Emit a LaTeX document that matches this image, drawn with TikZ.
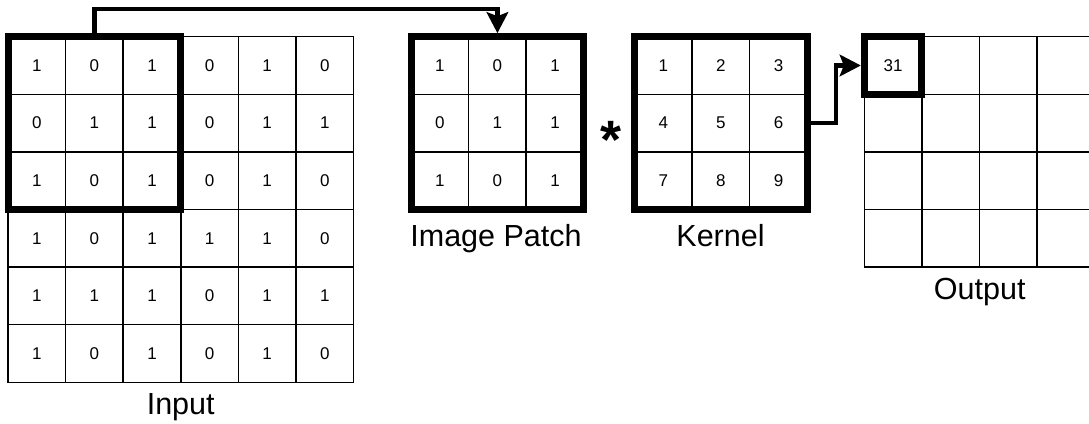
\documentclass[tikz,border=0pt]{standalone}
\usepackage{fontspec}
\setmainfont{Liberation Sans}
\usetikzlibrary{arrows.meta}
\begin{document}
\begin{tikzpicture}[x=1pt,y=-1pt,
  cell/.style={draw=black, line width=1.5pt, minimum size=57.6pt, inner sep=0pt, outer sep=0pt, font=\fontsize{17}{20}\selectfont},
  thickbox/.style={draw=black, line width=7pt, minimum size=172.8pt, inner sep=0pt},
  conn/.style={line width=4.3pt, -{Stealth[length=21pt,width=21.5pt,inset=4pt]}},
  lbl/.style={anchor=base, inner sep=0pt, font=\fontsize{30.5}{36}\selectfont}]
\useasboundingbox (0,0) rectangle (1089,423);
\clip (0,0) rectangle (1089,423);
% Input grid
\foreach \row [count=\r from 0] in {{1,0,1,0,1,0},{0,1,1,0,1,1},{1,0,1,0,1,0},{1,0,1,1,1,0},{1,1,1,0,1,1},{1,0,1,0,1,0}}{
  \foreach \v [count=\c from 0] in \row {
    \node[cell] (in-\r-\c) at ({8+28.8+57.6*\c},{36.7+28.8+57.6*\r}) {\v};
  }
}
% Image patch
\foreach \row [count=\r from 0] in {{1,0,1},{0,1,1},{1,0,1}}{
  \foreach \v [count=\c from 0] in \row {
    \node[cell] (pa-\r-\c) at ({411+28.8+57.6*\c},{36.7+28.8+57.6*\r}) {\v};
  }
}
% Kernel
\foreach \row [count=\r from 0] in {{1,2,3},{4,5,6},{7,8,9}}{
  \foreach \v [count=\c from 0] in \row {
    \node[cell] (ke-\r-\c) at ({634.5+28.8+57.6*\c},{36.7+28.8+57.6*\r}) {\v};
  }
}
% Output
\foreach \r in {0,...,3}{
  \foreach \c in {0,...,3}{
    \node[cell] (out-\r-\c) at ({864.3+28.8+57.6*\c},{36.7+28.8+57.6*\r}) {\ifnum\r=0 \ifnum\c=0 31\fi\fi};
  }
}
% Thick boxes
\node[thickbox] (inbox) at (94.4,123.1) {};
\node[thickbox] (patchbox) at (497.4,123.1) {};
\node[thickbox] (kbox) at (720.9,123.1) {};
\node[thickbox, minimum size=57.6pt] (outbox) at (893.1,65.5) {};
% Operator
\node[anchor=north, inner sep=0pt, font=\bfseries\fontsize{54}{60}\selectfont] (star) at (610.5,120.7) {*};
% Connectors
\coordinate (top) at (497.4,9);
\draw[conn] (inbox.north) |- (top) -| (patchbox.north);
\coordinate (bend) at (836,0);
\draw[conn] (kbox.east) -- (kbox.east -| bend) |- (outbox.west);
% Labels
\node[lbl] (linput) at (180.7,414.3) {Input};
\node[lbl] (lpatch) at (496,246.7) {Image Patch};
\node[lbl] (lkernel) at (720.5,246.7) {Kernel};
\node[lbl] (loutput) at (979.7,299) {Output};
\end{tikzpicture}
\end{document}
